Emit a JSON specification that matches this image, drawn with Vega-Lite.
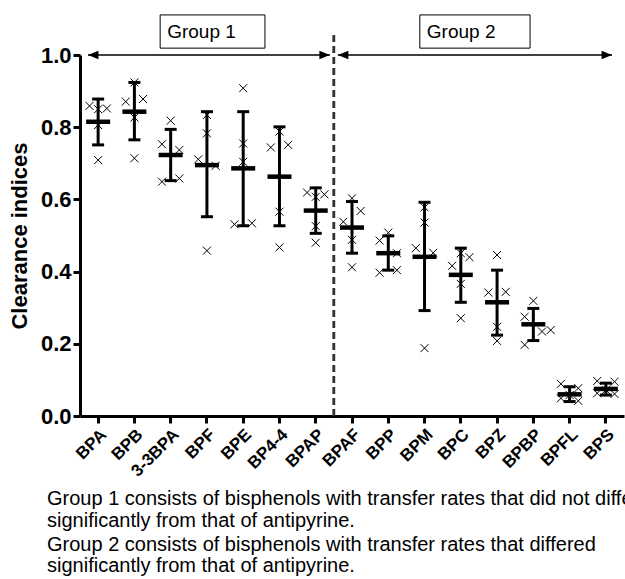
{
  "$schema": "https://vega.github.io/schema/vega-lite/v6.json",
  "autosize": {"type": "none"},
  "padding": {"left": 80, "top": 55, "right": 1, "bottom": 163},
  "width": 544,
  "height": 361,
  "background": "white",
  "config": {"view": {"stroke": null}, "font": "Liberation Sans"},
  "title": {
    "text": ["Group 1 consists of bisphenols with transfer rates that did not differ", "significantly from that of antipyrine."],
    "subtitle": ["Group 2 consists of bisphenols with transfer rates that differed", "significantly from that of antipyrine."],
    "orient": "bottom", "anchor": "start", "frame": "group", "dx": -33, "offset": 10,
    "font": "Liberation Sans", "fontSize": 20, "fontWeight": "normal", "color": "black", "lineHeight": 21.5,
    "subtitleFont": "Liberation Sans", "subtitleFontSize": 20, "subtitleColor": "black", "subtitleLineHeight": 21.5, "subtitlePadding": 4
  },
  "datasets": {
    "points": [
      {"name": "BPA", "slot": "L", "v": 0.859}, {"name": "BPA", "slot": "C", "v": 0.850}, {"name": "BPA", "slot": "R", "v": 0.852}, {"name": "BPA", "slot": "C", "v": 0.806}, {"name": "BPA", "slot": "C", "v": 0.709},
      {"name": "BPB", "slot": "C", "v": 0.924}, {"name": "BPB", "slot": "L", "v": 0.871}, {"name": "BPB", "slot": "R", "v": 0.878}, {"name": "BPB", "slot": "C", "v": 0.827}, {"name": "BPB", "slot": "C", "v": 0.714},
      {"name": "3-3BPA", "slot": "C", "v": 0.818}, {"name": "3-3BPA", "slot": "L", "v": 0.753}, {"name": "3-3BPA", "slot": "R", "v": 0.737}, {"name": "3-3BPA", "slot": "L", "v": 0.649}, {"name": "3-3BPA", "slot": "R", "v": 0.658},
      {"name": "BPF", "slot": "C", "v": 0.834}, {"name": "BPF", "slot": "C", "v": 0.783}, {"name": "BPF", "slot": "L", "v": 0.711}, {"name": "BPF", "slot": "R", "v": 0.693}, {"name": "BPF", "slot": "C", "v": 0.458},
      {"name": "BPE", "slot": "C", "v": 0.908}, {"name": "BPE", "slot": "C", "v": 0.755}, {"name": "BPE", "slot": "C", "v": 0.704}, {"name": "BPE", "slot": "L", "v": 0.531}, {"name": "BPE", "slot": "R", "v": 0.534},
      {"name": "BP4-4", "slot": "C", "v": 0.788}, {"name": "BP4-4", "slot": "L", "v": 0.744}, {"name": "BP4-4", "slot": "R", "v": 0.751}, {"name": "BP4-4", "slot": "C", "v": 0.566}, {"name": "BP4-4", "slot": "C", "v": 0.467},
      {"name": "BPAP", "slot": "L", "v": 0.619}, {"name": "BPAP", "slot": "R", "v": 0.614}, {"name": "BPAP", "slot": "C", "v": 0.607}, {"name": "BPAP", "slot": "C", "v": 0.526}, {"name": "BPAP", "slot": "C", "v": 0.480},
      {"name": "BPAF", "slot": "C", "v": 0.603}, {"name": "BPAF", "slot": "R", "v": 0.568}, {"name": "BPAF", "slot": "L", "v": 0.538}, {"name": "BPAF", "slot": "C", "v": 0.488}, {"name": "BPAF", "slot": "C", "v": 0.412},
      {"name": "BPP", "slot": "C", "v": 0.508}, {"name": "BPP", "slot": "L", "v": 0.486}, {"name": "BPP", "slot": "R", "v": 0.451}, {"name": "BPP", "slot": "L", "v": 0.397}, {"name": "BPP", "slot": "R", "v": 0.404},
      {"name": "BPM", "slot": "C", "v": 0.578}, {"name": "BPM", "slot": "C", "v": 0.536}, {"name": "BPM", "slot": "L", "v": 0.465}, {"name": "BPM", "slot": "R", "v": 0.452}, {"name": "BPM", "slot": "C", "v": 0.188},
      {"name": "BPC", "slot": "C", "v": 0.451}, {"name": "BPC", "slot": "R", "v": 0.440}, {"name": "BPC", "slot": "L", "v": 0.416}, {"name": "BPC", "slot": "C", "v": 0.366}, {"name": "BPC", "slot": "C", "v": 0.271},
      {"name": "BPZ", "slot": "C", "v": 0.446}, {"name": "BPZ", "slot": "L", "v": 0.342}, {"name": "BPZ", "slot": "R", "v": 0.344}, {"name": "BPZ", "slot": "C", "v": 0.247}, {"name": "BPZ", "slot": "C", "v": 0.208},
      {"name": "BPBP", "slot": "C", "v": 0.319}, {"name": "BPBP", "slot": "L", "v": 0.275}, {"name": "BPBP", "slot": "R", "v": 0.234}, {"name": "BPBP", "slot": "RR", "v": 0.238}, {"name": "BPBP", "slot": "L", "v": 0.197},
      {"name": "BPFL", "slot": "L", "v": 0.089}, {"name": "BPFL", "slot": "R", "v": 0.077}, {"name": "BPFL", "slot": "C", "v": 0.058}, {"name": "BPFL", "slot": "R", "v": 0.042}, {"name": "BPFL", "slot": "L", "v": 0.049},
      {"name": "BPS", "slot": "L", "v": 0.097}, {"name": "BPS", "slot": "R", "v": 0.095}, {"name": "BPS", "slot": "C", "v": 0.072}, {"name": "BPS", "slot": "L", "v": 0.063}, {"name": "BPS", "slot": "R", "v": 0.061}
    ],
    "summary": [
      {"name": "BPA", "mean": 0.815, "lo": 0.751, "hi": 0.878},
      {"name": "BPB", "mean": 0.843, "lo": 0.765, "hi": 0.924},
      {"name": "3-3BPA", "mean": 0.723, "lo": 0.652, "hi": 0.794},
      {"name": "BPF", "mean": 0.695, "lo": 0.552, "hi": 0.843},
      {"name": "BPE", "mean": 0.686, "lo": 0.527, "hi": 0.843},
      {"name": "BP4-4", "mean": 0.663, "lo": 0.527, "hi": 0.801},
      {"name": "BPAP", "mean": 0.569, "lo": 0.506, "hi": 0.632},
      {"name": "BPAF", "mean": 0.522, "lo": 0.451, "hi": 0.594},
      {"name": "BPP", "mean": 0.451, "lo": 0.404, "hi": 0.499},
      {"name": "BPM", "mean": 0.441, "lo": 0.292, "hi": 0.592},
      {"name": "BPC", "mean": 0.391, "lo": 0.315, "hi": 0.465},
      {"name": "BPZ", "mean": 0.315, "lo": 0.224, "hi": 0.404},
      {"name": "BPBP", "mean": 0.254, "lo": 0.209, "hi": 0.298},
      {"name": "BPFL", "mean": 0.060, "lo": 0.040, "hi": 0.081},
      {"name": "BPS", "mean": 0.075, "lo": 0.058, "hi": 0.091}
    ],
    "groups": [
      {"group": "Group 1", "from": 0.22, "to": 6.89, "boxFrom": 2.21, "boxTo": 5.10},
      {"group": "Group 2", "from": 7.11, "to": 14.67, "boxFrom": 9.37, "boxTo": 12.41}
    ]
  },
  "layer": [
    {
      "layer": [
        {
          "data": {"name": "summary"},
          "mark": {"type": "rule", "color": "black", "strokeWidth": 3},
          "encoding": {
            "x": {"field": "name", "type": "nominal", "sort": null,
              "scale": {"paddingInner": 0, "paddingOuter": 0},
              "axis": {"title": null, "labelAngle": -45, "labelFont": "Liberation Sans", "labelFontSize": 17, "labelFontWeight": "bold", "labelColor": "black",
                "domainColor": "black", "domainWidth": 3, "tickColor": "black", "tickWidth": 3, "tickSize": 7, "labelPadding": 3}},
            "y": {"field": "lo", "type": "quantitative",
              "scale": {"domain": [0, 1], "nice": false},
              "axis": {"title": "Clearance indices", "titleFont": "Liberation Sans", "titleFontSize": 22, "titleFontWeight": "bold", "titleColor": "black", "titlePadding": 9,
                "values": [0, 0.2, 0.4, 0.6, 0.8, 1.0], "format": ".1f", "grid": false,
                "labelFont": "Liberation Sans", "labelFontSize": 22, "labelFontWeight": "bold", "labelColor": "black", "labelPadding": 2,
                "domainColor": "black", "domainWidth": 3, "tickColor": "black", "tickWidth": 3, "tickSize": 7}},
            "y2": {"field": "hi"}
          }
        },
        {
          "data": {"name": "summary"},
          "mark": {"type": "tick", "color": "black", "size": 12, "thickness": 3, "opacity": 1},
          "encoding": {
            "x": {"field": "name", "type": "nominal", "sort": null},
            "y": {"field": "lo", "type": "quantitative", "scale": {"domain": [0, 1], "nice": false}}
          }
        },
        {
          "data": {"name": "summary"},
          "mark": {"type": "tick", "color": "black", "size": 12, "thickness": 3, "opacity": 1},
          "encoding": {
            "x": {"field": "name", "type": "nominal", "sort": null},
            "y": {"field": "hi", "type": "quantitative", "scale": {"domain": [0, 1], "nice": false}}
          }
        },
        {
          "data": {"name": "summary"},
          "mark": {"type": "tick", "color": "black", "size": 24, "thickness": 4.5, "opacity": 1},
          "encoding": {
            "x": {"field": "name", "type": "nominal", "sort": null},
            "y": {"field": "mean", "type": "quantitative", "scale": {"domain": [0, 1], "nice": false}}
          }
        },
        {
          "data": {"name": "points"},
          "mark": {"type": "point", "shape": "M-1,-1L1,1M-1,1L1,-1", "size": 64, "filled": false, "stroke": "black", "strokeWidth": 1, "opacity": 1},
          "encoding": {
            "x": {"field": "name", "type": "nominal", "sort": null},
            "xOffset": {"field": "slot", "type": "nominal", "scale": {"domain": ["LL", "L", "C", "R", "RR"], "paddingInner": 0, "paddingOuter": 0.09}},
            "y": {"field": "v", "type": "quantitative", "scale": {"domain": [0, 1], "nice": false}}
          }
        }
      ]
    },
    {
      "data": {"name": "groups"},
      "layer": [
        {
          "mark": {"type": "rule", "color": "#333333", "strokeWidth": 2.5, "strokeDash": [7, 4]},
          "encoding": {
            "x": {"datum": 7, "type": "quantitative", "scale": {"domain": [0, 15], "nice": false, "zero": false}, "axis": null},
            "y": {"datum": 0, "type": "quantitative", "scale": {"domain": [0, 1], "nice": false}},
            "y2": {"datum": 1.055}
          }
        },
        {
          "mark": {"type": "rule", "color": "black", "strokeWidth": 1.5},
          "encoding": {
            "x": {"field": "from", "type": "quantitative", "scale": {"domain": [0, 15], "nice": false, "zero": false}, "axis": null},
            "x2": {"field": "to"},
            "y": {"datum": 1, "type": "quantitative", "scale": {"domain": [0, 1], "nice": false}}
          }
        },
        {
          "mark": {"type": "point", "shape": "M0,0L2,-0.8L2,0.8Z", "size": 110, "filled": true, "color": "black", "opacity": 1},
          "encoding": {
            "x": {"field": "from", "type": "quantitative", "scale": {"domain": [0, 15], "nice": false, "zero": false}, "axis": null},
            "y": {"datum": 1, "type": "quantitative", "scale": {"domain": [0, 1], "nice": false}}
          }
        },
        {
          "mark": {"type": "point", "shape": "M0,0L-2,-0.8L-2,0.8Z", "size": 110, "filled": true, "color": "black", "opacity": 1},
          "encoding": {
            "x": {"field": "to", "type": "quantitative", "scale": {"domain": [0, 15], "nice": false, "zero": false}, "axis": null},
            "y": {"datum": 1, "type": "quantitative", "scale": {"domain": [0, 1], "nice": false}}
          }
        },
        {
          "mark": {"type": "rect", "fill": "white", "stroke": "black", "strokeWidth": 1},
          "encoding": {
            "x": {"field": "boxFrom", "type": "quantitative", "scale": {"domain": [0, 15], "nice": false, "zero": false}, "axis": null},
            "x2": {"field": "boxTo"},
            "y": {"datum": 1.019, "type": "quantitative", "scale": {"domain": [0, 1], "nice": false}},
            "y2": {"datum": 1.111}
          }
        },
        {
          "mark": {"type": "text", "align": "left", "baseline": "middle", "dx": 7, "font": "Liberation Sans", "fontSize": 19, "color": "black"},
          "encoding": {
            "x": {"field": "boxFrom", "type": "quantitative", "scale": {"domain": [0, 15], "nice": false, "zero": false}, "axis": null},
            "y": {"datum": 1.064, "type": "quantitative", "scale": {"domain": [0, 1], "nice": false}},
            "text": {"field": "group"}
          }
        }
      ]
    }
  ],
  "resolve": {"scale": {"x": "independent"}, "axis": {"x": "independent"}}
}
